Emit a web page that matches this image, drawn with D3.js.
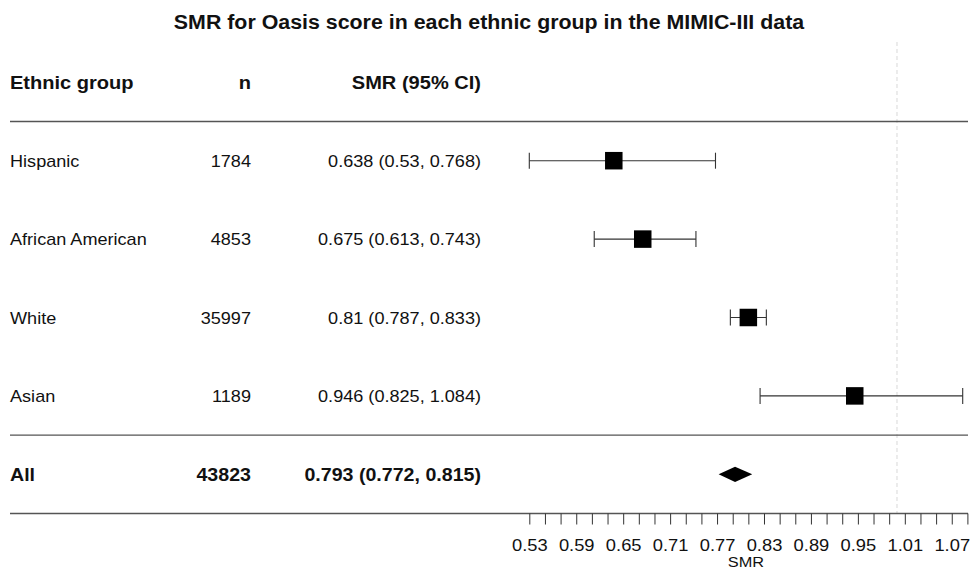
<!DOCTYPE html>
<html>
<head>
<meta charset="utf-8">
<script src="https://cdn.jsdelivr.net/npm/d3@7"></script>
<style>
  html, body { margin: 0; padding: 0; background: #fff; }
  svg { display: block; font-family: "Liberation Sans", Arial, sans-serif; }
</style>
</head>
<body>
<svg id="chart" width="970" height="570"></svg>
<script>
// Forest plot data
const groups = ["Hispanic", "African American", "White", "Asian"];
const counts = [1784, 4853, 35997, 1189];
const smr = [0.638, 0.675, 0.81, 0.946];
const lower = [0.53, 0.613, 0.787, 0.825];
const upper = [0.768, 0.743, 0.833, 1.084];

const pooledLabel = "All";
const pooledCount = 43823;
const pooledSmr = 0.793;
const pooledLower = 0.772;
const pooledUpper = 0.815;

const headers = ["Ethnic group", "n", "SMR (95% CI)"];
const tickValues = d3.range(0, 29).map(i => +(0.53 + i * 0.02).toFixed(2));
const labelledTicks = tickValues.filter((d, i) => i % 3 === 0);
const refValue = 1;

const titleText = "SMR for Oasis score in each ethnic group in the MIMIC-III data";
const axisTitle = "SMR";

const svg = d3.select("#chart");
const SX = 1.09; // horizontal text stretch

const x = d3.scaleLinear().domain([0.53, 1.09]).range([529.3, 967.4]);
// row index -> vertical centre (0 = header, 1..4 = groups, 5 = pooled)
const y = d3.scaleLinear().domain([1, 5]).range([160.7, 474.3]);

function label(g, px, py, txt, opts = {}) {
  return g.append("text")
    .attr("transform", `translate(${px},${py}) scale(${SX},1)`)
    .attr("text-anchor", opts.anchor || "start")
    .attr("font-size", opts.size || 16.6)
    .attr("font-weight", opts.bold ? "bold" : "normal")
    .attr("fill", "#111")
    .text(txt);
}

// reference line at SMR = 1
svg.append("line")
  .attr("x1", x(refValue)).attr("x2", x(refValue))
  .attr("y1", 42).attr("y2", y(5.5))
  .attr("stroke", "#d9d9d9").attr("stroke-width", 1)
  .attr("stroke-dasharray", "4,3");

// title
label(svg, 489, 28.5, titleText, { anchor: "middle", size: 19.6, bold: true });

// table column positions
const colX = [10, 251, 481];
const colAnchor = ["start", "end", "end"];
const base = 6;

headers.forEach((h, i) => label(svg, colX[i], y(0) + base + 0.6, h, { anchor: colAnchor[i], bold: true, size: 18.4 }));

groups.forEach((gname, i) => {
  const cy = y(i + 1) + base;
  label(svg, colX[0], cy, gname, { anchor: colAnchor[0] });
  label(svg, colX[1], cy, String(counts[i]), { anchor: colAnchor[1] });
  label(svg, colX[2], cy, `${smr[i]} (${lower[i]}, ${upper[i]})`, { anchor: colAnchor[2] });
});

const pooledY = y(5) + base + 0.5;
label(svg, colX[0], pooledY, pooledLabel, { anchor: "start", bold: true, size: 18 });
label(svg, colX[1], pooledY, String(pooledCount), { anchor: "end", bold: true, size: 18 });
label(svg, colX[2], pooledY, `${pooledSmr} (${pooledLower}, ${pooledUpper})`, { anchor: "end", bold: true, size: 18 });

// horizontal separators
[0.5, 4.5, 5.5].forEach(r => {
  svg.append("line")
    .attr("x1", 10).attr("x2", 968)
    .attr("y1", y(r)).attr("y2", y(r))
    .attr("stroke", "#555").attr("stroke-width", 1.3);
});

// confidence intervals
const ci = svg.append("g").attr("stroke", "#333").attr("stroke-width", 1.1);
groups.forEach((gname, i) => {
  const cy = y(i + 1);
  ci.append("line").attr("x1", x(lower[i])).attr("x2", x(upper[i])).attr("y1", cy).attr("y2", cy);
  [lower[i], upper[i]].forEach(v => {
    ci.append("line").attr("x1", x(v)).attr("x2", x(v)).attr("y1", cy - 8).attr("y2", cy + 8);
  });
});

// point estimates
const boxSize = 17.5;
svg.append("g").selectAll("rect").data(smr).join("rect")
  .attr("x", d => x(d) - boxSize / 2)
  .attr("y", (d, i) => y(i + 1) - boxSize / 2)
  .attr("width", boxSize).attr("height", boxSize)
  .attr("fill", "#000");

// pooled estimate diamond
const dy = y(5), dh = 7.6;
svg.append("path")
  .attr("d", `M${x(pooledLower)},${dy} L${x(pooledSmr)},${dy - dh} L${x(pooledUpper)},${dy} L${x(pooledSmr)},${dy + dh} Z`)
  .attr("fill", "#000");

// x axis
const axis = d3.axisBottom(x)
  .tickValues(tickValues)
  .tickSize(11)
  .tickPadding(15)
  .tickFormat(d => labelledTicks.includes(d) ? d3.format(".2f")(d) : "");

const ax = svg.append("g").attr("transform", `translate(0,${y(5.5)})`).call(axis);
ax.select(".domain").remove();
ax.selectAll(".tick line").attr("stroke", "#333").attr("stroke-width", 1);
ax.selectAll(".tick text")
  .attr("font-family", "Liberation Sans, Arial, sans-serif")
  .attr("font-size", 16.8)
  .attr("fill", "#111")
  .attr("transform", `scale(${SX},1)`);

label(svg, 746, 567, axisTitle, { anchor: "middle", size: 15 });
</script>
</body>
</html>
